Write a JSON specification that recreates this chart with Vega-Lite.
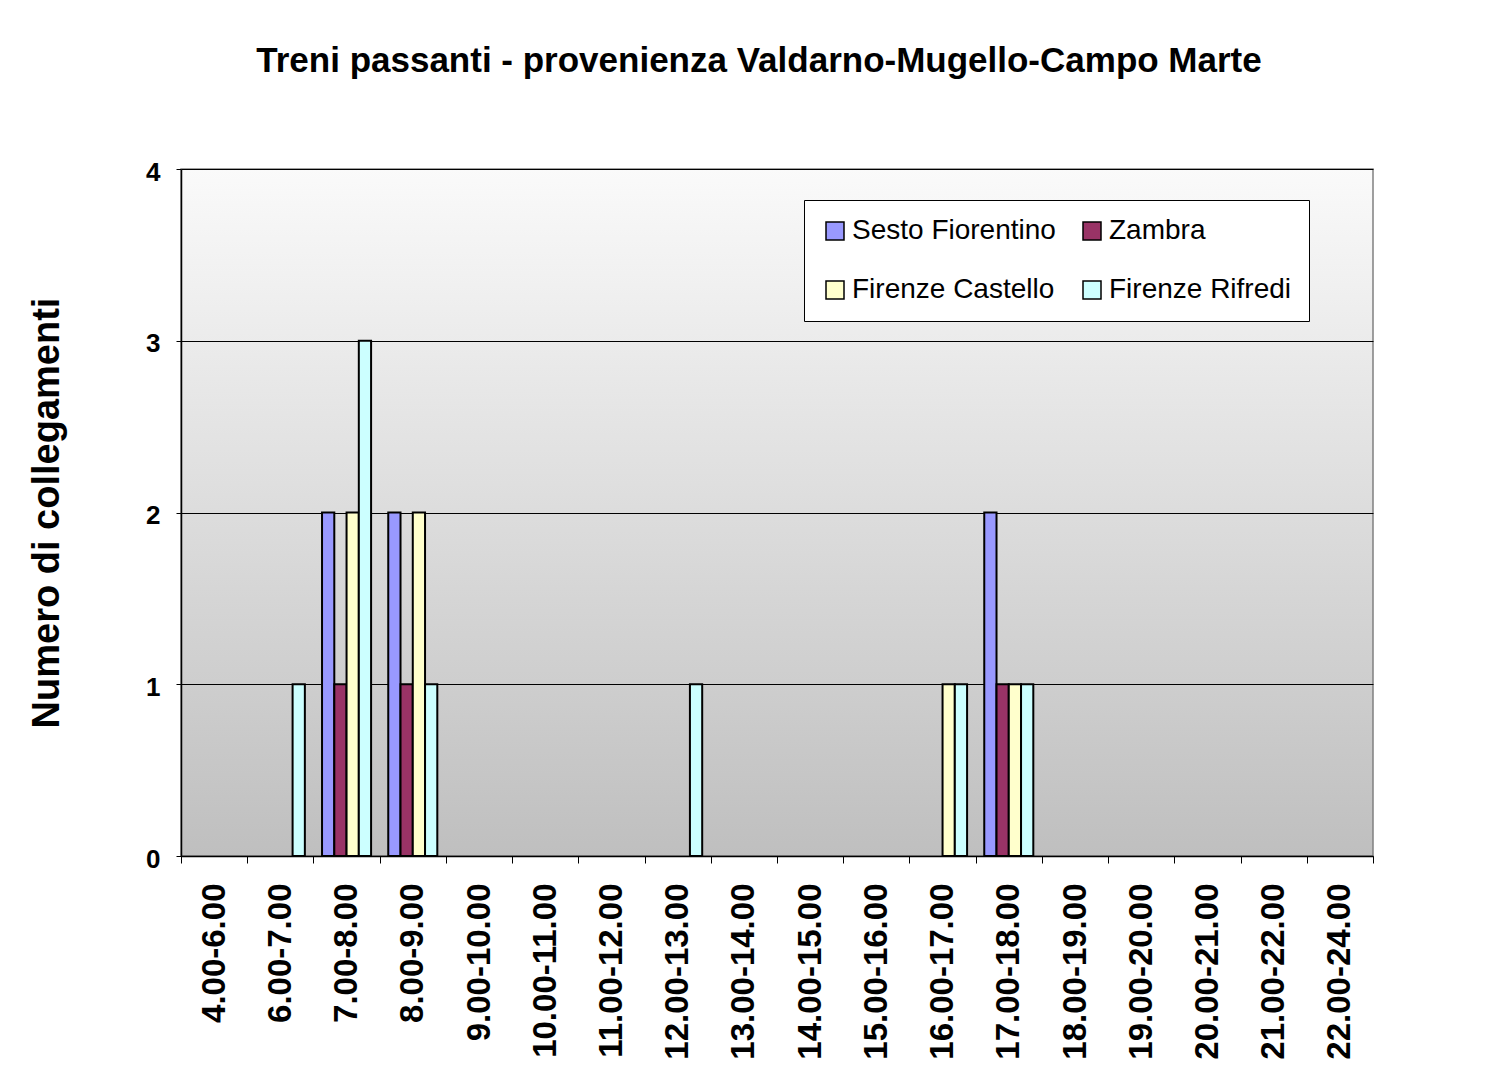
{
  "$schema": "https://vega.github.io/schema/vega-lite/v6.json",
  "width": 1192,
  "height": 687,
  "autosize": {"type": "none"},
  "padding": {"left": 181, "top": 169, "right": 127, "bottom": 230},
  "background": "white",
  "title": {
    "text": "Treni passanti - provenienza Valdarno-Mugello-Campo Marte",
    "font": "Liberation Sans",
    "fontSize": 35,
    "fontWeight": "bold",
    "letterSpacing": 2.5,
    "color": "black",
    "anchor": "middle",
    "frame": "group",
    "dx": -18,
    "offset": 80
  },
  "config": {
    "view": {
      "stroke": "#808080",
      "strokeWidth": 1.5,
      "fill": {
        "gradient": "linear",
        "x1": 0, "y1": 0, "x2": 0, "y2": 1,
        "stops": [
          {"offset": 0, "color": "#FAFAFA"},
          {"offset": 1, "color": "#BFBFBF"}
        ]
      }
    },
    "legend": {"strokeWidth": 1}
  },
  "data": {
    "values": [
      {"slot": "6.00-7.00", "station": "Firenze Rifredi", "n": 1},
      {"slot": "7.00-8.00", "station": "Sesto Fiorentino", "n": 2},
      {"slot": "7.00-8.00", "station": "Zambra", "n": 1},
      {"slot": "7.00-8.00", "station": "Firenze Castello", "n": 2},
      {"slot": "7.00-8.00", "station": "Firenze Rifredi", "n": 3},
      {"slot": "8.00-9.00", "station": "Sesto Fiorentino", "n": 2},
      {"slot": "8.00-9.00", "station": "Zambra", "n": 1},
      {"slot": "8.00-9.00", "station": "Firenze Castello", "n": 2},
      {"slot": "8.00-9.00", "station": "Firenze Rifredi", "n": 1},
      {"slot": "12.00-13.00", "station": "Firenze Rifredi", "n": 1},
      {"slot": "16.00-17.00", "station": "Firenze Castello", "n": 1},
      {"slot": "16.00-17.00", "station": "Firenze Rifredi", "n": 1},
      {"slot": "17.00-18.00", "station": "Sesto Fiorentino", "n": 2},
      {"slot": "17.00-18.00", "station": "Zambra", "n": 1},
      {"slot": "17.00-18.00", "station": "Firenze Castello", "n": 1},
      {"slot": "17.00-18.00", "station": "Firenze Rifredi", "n": 1}
    ]
  },
  "mark": {"type": "bar", "stroke": "black", "strokeWidth": 2},
  "encoding": {
    "x": {
      "field": "slot",
      "type": "nominal",
      "scale": {
        "domain": ["4.00-6.00", "6.00-7.00", "7.00-8.00", "8.00-9.00", "9.00-10.00", "10.00-11.00", "11.00-12.00", "12.00-13.00", "13.00-14.00", "14.00-15.00", "15.00-16.00", "16.00-17.00", "17.00-18.00", "18.00-19.00", "19.00-20.00", "20.00-21.00", "21.00-22.00", "22.00-24.00"],
        "paddingInner": 0,
        "paddingOuter": 0
      },
      "axis": {
        "title": null,
        "labelAngle": -90,
        "tickBand": "extent",
        "labelFont": "Liberation Sans",
        "labelFontSize": 33,
        "labelFontWeight": "bold",
        "labelColor": "black",
        "domainColor": "black",
        "domainWidth": 1.5,
        "tickColor": "black",
        "tickSize": 7,
        "labelPadding": 20,
        "grid": false
      }
    },
    "xOffset": {
      "field": "station",
      "type": "nominal",
      "scale": {
        "domain": ["Sesto Fiorentino", "Zambra", "Firenze Castello", "Firenze Rifredi"],
        "paddingOuter": 0.7,
        "paddingInner": 0
      }
    },
    "y": {
      "field": "n",
      "type": "quantitative",
      "scale": {"domain": [0, 4], "nice": false},
      "axis": {
        "values": [0, 1, 2, 3, 4],
        "format": "d",
        "grid": true,
        "gridColor": "black",
        "gridWidth": 1,
        "labelFont": "Liberation Sans",
        "labelFontSize": 26,
        "labelFontWeight": "bold",
        "labelColor": "black",
        "labelPadding": 16,
        "labelOffset": 3,
        "domainColor": "black",
        "domainWidth": 1.5,
        "tickColor": "black",
        "tickSize": 5,
        "title": "Numero di collegamenti",
        "titleFont": "Liberation Sans",
        "titleFontSize": 38,
        "titleFontWeight": "bold",
        "titleColor": "black",
        "titlePadding": 79
      }
    },
    "color": {
      "field": "station",
      "type": "nominal",
      "scale": {
        "domain": ["Sesto Fiorentino", "Zambra", "Firenze Castello", "Firenze Rifredi"],
        "range": ["#9999FF", "#993366", "#FFFFCC", "#CCFFFF"]
      },
      "legend": {
        "title": null,
        "orient": "none",
        "legendX": 623,
        "legendY": 31,
        "columns": 2,
        "direction": "horizontal",
        "symbolType": "square",
        "symbolSize": 324,
        "symbolStrokeColor": "black",
        "symbolStrokeWidth": 1.5,
        "symbolOpacity": 1,
        "labelFont": "Liberation Sans",
        "labelFontSize": 28,
        "labelColor": "black",
        "labelOffset": 3,
        "labelLimit": 400,
        "columnPadding": 22,
        "rowPadding": 31,
        "padding": 17,
        "fillColor": "white",
        "strokeColor": "black"
      }
    }
  }
}
